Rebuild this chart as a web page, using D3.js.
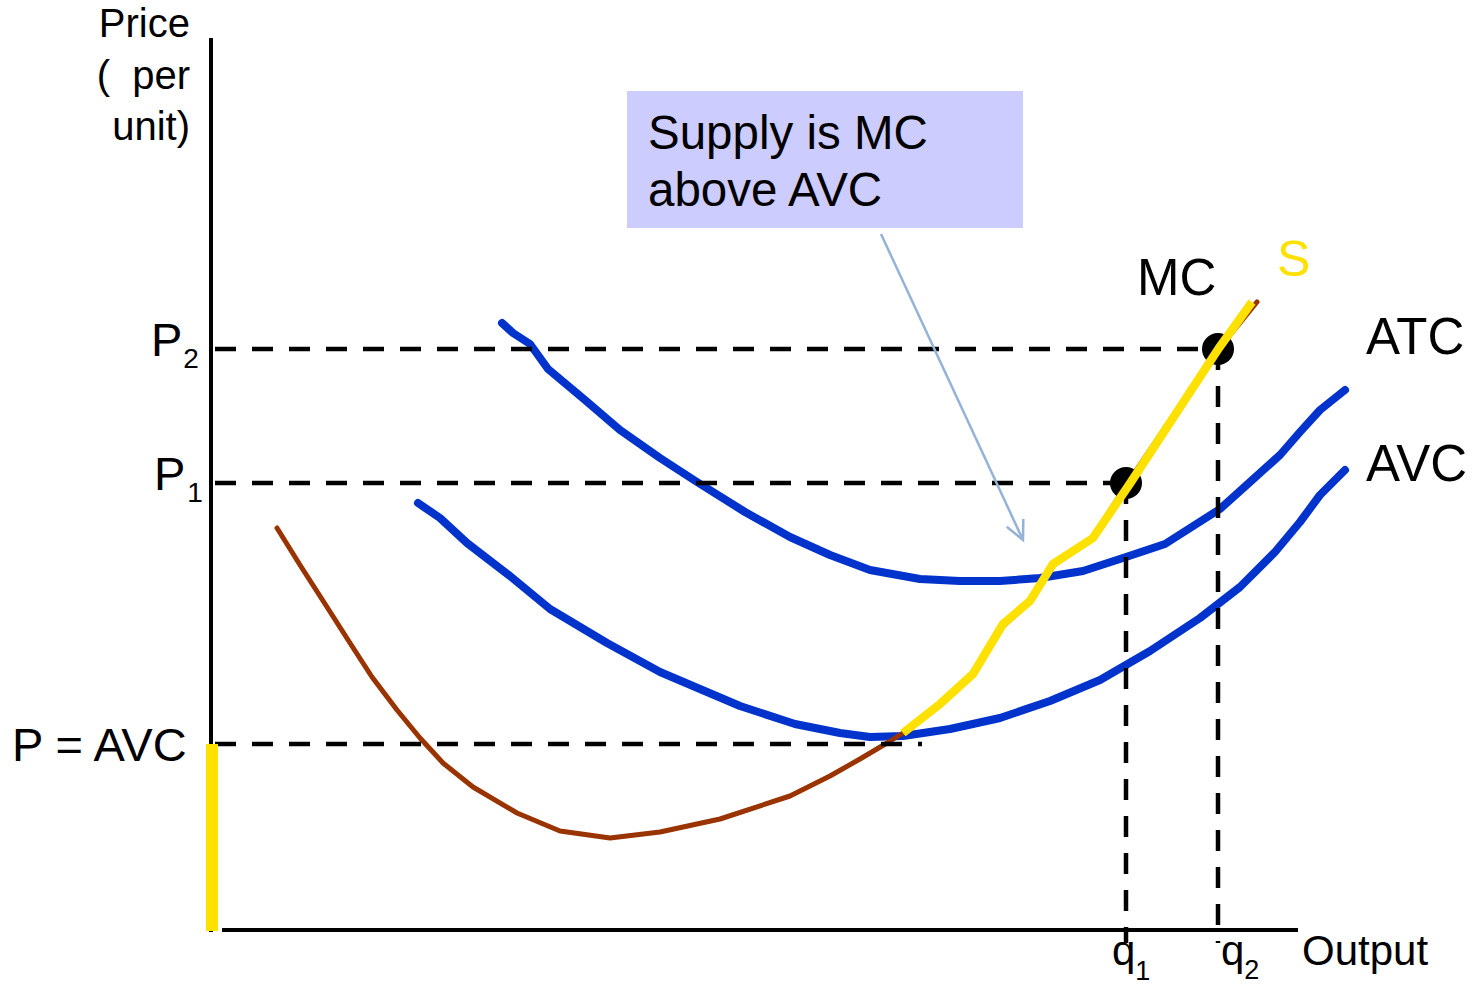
<!DOCTYPE html>
<html>
<head>
<meta charset="utf-8">
<script src="https://cdn.jsdelivr.net/npm/d3@7"></script>
<style>
  html, body { margin: 0; padding: 0; background: #fff; }
  svg { display: block; }
  text { font-family: "Liberation Sans", Arial, sans-serif; fill: #000; }
</style>
</head>
<body>
<svg id="chart" width="1481" height="987"></svg>
<script>
// Short-run cost curves of a competitive firm (quantity, price per unit)
const atcCurve = [
  [29.1, 60.7], [30.2, 59.7], [31.9, 58.6], [33.7, 56.1], [37.4, 53.0], [40.9, 50.0],
  [44.9, 47.2], [48.6, 44.8], [53.4, 41.8], [57.9, 39.3], [61.9, 37.5], [65.9, 36.0],
  [70.9, 35.1], [74.9, 34.9], [78.9, 34.9], [82.9, 35.2], [87.2, 35.9], [91.2, 37.2],
  [95.4, 38.6], [100.9, 42.1], [103.9, 44.8], [106.9, 47.5], [108.9, 49.8], [110.9, 52.0],
  [113.4, 54.0]
];
const avcCurve = [
  [20.7, 42.7], [22.9, 41.2], [25.6, 38.7], [29.9, 35.4], [33.9, 32.1], [39.6, 28.7],
  [44.9, 25.8], [52.9, 22.4], [58.4, 20.6], [62.9, 19.7], [65.9, 19.3], [69.2, 19.4],
  [73.9, 20.1], [78.9, 21.2], [83.9, 22.9], [88.9, 25.0], [93.9, 27.9], [98.9, 31.2],
  [102.9, 34.3], [106.4, 37.8], [108.9, 40.8], [110.9, 43.5], [113.4, 46.0]
];
const mcCurve = [
  [6.6, 40.2], [8.9, 36.5], [11.6, 32.3], [13.9, 28.7], [16.1, 25.3], [18.6, 22.0],
  [20.9, 19.2], [23.2, 16.7], [26.2, 14.3], [30.6, 11.7], [34.9, 9.9], [39.9, 9.2],
  [44.9, 9.8], [50.9, 11.1], [57.9, 13.4], [61.9, 15.4], [64.9, 17.1], [67.6, 18.7],
  [69.2, 19.7], [72.9, 22.5], [76.0, 25.3], [79.0, 30.2], [81.7, 32.6], [84.0, 36.3],
  [88.0, 39.0], [91.6, 44.6], [100.6, 57.9], [104.6, 62.8]
];
// Supply: the MC branch above minimum AVC
const supplyCurve = [
  [69.2, 19.7], [72.9, 22.6], [76.2, 25.6], [79.2, 30.6], [81.9, 32.9], [84.2, 36.6],
  [88.2, 39.2], [92.0, 44.8], [100.8, 58.2], [104.1, 62.8]
];
// Price levels and chosen outputs
const priceLevels = [
  { name: "P2", p: 58.1, q: 100.7 },
  { name: "P1", p: 44.7, q: 91.5 },
  { name: "P = AVC", p: 18.6, q: 71.1 }
];
const outputs = [
  { name: "q1", q: 91.5, p: 44.7, sub: "1" },
  { name: "q2", q: 100.7, p: 58.1, sub: "2" }
];
const shutdownPrice = 18.6;
const arrowFrom = [67.0, 69.6];
const arrowTo = [81.2, 39.0];
const noteBox = { q0: 41.6, q1: 81.2, p0: 70.2, p1: 83.9 };

const BLUE = "#0033CC", BROWN = "#993300", YELLOW = "#FFE100", NOTE = "#CCCCFF", ARROW = "#95B3D7";

const svg = d3.select("#chart");
const x = d3.scaleLinear().domain([0, 108.7]).range([211, 1298]);
const y = d3.scaleLinear().domain([0, 89.2]).range([930, 38]);

const line = d3.line().x(d => x(d[0])).y(d => y(d[1])).curve(d3.curveLinear);

// Axes
svg.append("line").attr("x1", x(0)).attr("x2", x(0)).attr("y1", y(89.2)).attr("y2", y(-0.2))
  .attr("stroke", "#000").attr("stroke-width", 4);
svg.append("line").attr("x1", x(1.1)).attr("x2", x(108.7)).attr("y1", y(0)).attr("y2", y(0))
  .attr("stroke", "#000").attr("stroke-width", 4);

// ATC and AVC
[atcCurve, avcCurve].forEach(c => {
  svg.append("path").attr("d", line(c)).attr("fill", "none").attr("stroke", BLUE)
    .attr("stroke-width", 8).attr("stroke-linecap", "round").attr("stroke-linejoin", "round");
});

// MC
svg.append("path").attr("d", line(mcCurve)).attr("fill", "none").attr("stroke", BROWN)
  .attr("stroke-width", 5).attr("stroke-linecap", "round").attr("stroke-linejoin", "round");

// Dashed guides
const dash = "21 16";
priceLevels.forEach(d => {
  svg.append("line").attr("x1", x(0.4)).attr("x2", x(d.q)).attr("y1", y(d.p)).attr("y2", y(d.p))
    .attr("stroke", "#000").attr("stroke-width", 4.5).attr("stroke-dasharray", dash);
});
outputs.forEach(d => {
  svg.append("line").attr("x1", x(d.q)).attr("x2", x(d.q)).attr("y1", y(d.p)).attr("y2", y(-1.3))
    .attr("stroke", "#000").attr("stroke-width", 4.5).attr("stroke-dasharray", dash);
});

// Equilibrium points
outputs.forEach(d => {
  svg.append("circle").attr("cx", x(d.q)).attr("cy", y(d.p)).attr("r", 16).attr("fill", "#000");
});

// Supply curve
svg.append("path").attr("d", line(supplyCurve)).attr("fill", "none").attr("stroke", YELLOW)
  .attr("stroke-width", 8.5).attr("stroke-linejoin", "miter");
svg.append("line").attr("x1", x(0) + 1).attr("x2", x(0) + 1).attr("y1", y(shutdownPrice)).attr("y2", y(-0.1))
  .attr("stroke", YELLOW).attr("stroke-width", 12);

// Note box
svg.append("rect").attr("x", x(noteBox.q0)).attr("y", y(noteBox.p1))
  .attr("width", x(noteBox.q1) - x(noteBox.q0)).attr("height", y(noteBox.p0) - y(noteBox.p1))
  .attr("fill", NOTE);
const note = svg.append("text").attr("font-size", 47.5);
note.append("tspan").attr("x", 648).attr("y", 149).text("Supply is MC");
note.append("tspan").attr("x", 648).attr("y", 206).text("above AVC");

// Arrow from note to the supply curve
const ax0 = x(arrowFrom[0]), ay0 = y(arrowFrom[1]), ax1 = x(arrowTo[0]), ay1 = y(arrowTo[1]);
svg.append("line").attr("x1", ax0).attr("y1", ay0).attr("x2", ax1).attr("y2", ay1)
  .attr("stroke", ARROW).attr("stroke-width", 2.5);
const ang = Math.atan2(ay1 - ay0, ax1 - ax0);
const head = [ang + Math.PI - 0.45, ang + Math.PI + 0.45].map(a => [ax1 + 21 * Math.cos(a), ay1 + 21 * Math.sin(a)]);
svg.append("path").attr("d", `M${head[0][0]},${head[0][1]}L${ax1},${ay1}L${head[1][0]},${head[1][1]}`)
  .attr("fill", "none").attr("stroke", ARROW).attr("stroke-width", 2.5);

// Axis titles
const yTitle = svg.append("text").attr("font-size", 40).attr("text-anchor", "end");
yTitle.append("tspan").attr("x", 190).attr("y", 37).text("Price");
yTitle.append("tspan").attr("x", 190).attr("y", 89).attr("xml:space", "preserve").text("(  per");
yTitle.append("tspan").attr("x", 190).attr("y", 140).text("unit)");
svg.append("text").attr("x", 1302).attr("y", 965).attr("font-size", 42).text("Output");

// Price labels
function subLabel(px, py, main, sub, size, subSize, subDx, subDy) {
  const t = svg.append("text").attr("x", px).attr("y", py).attr("font-size", size);
  t.append("tspan").text(main);
  t.append("tspan").attr("font-size", subSize).attr("dx", subDx).attr("dy", subDy).text(sub);
}
subLabel(151, 356, "P", "2", 47, 28, 1, 12);
subLabel(154, 490, "P", "1", 47, 28, 2, 12);
svg.append("text").attr("x", 12).attr("y", 761).attr("font-size", 47).text("P = AVC");
subLabel(1112, 965, "q", "1", 42, 27, 0, 15);
subLabel(1221, 965, "q", "2", 42, 27, 0, 14);

// Curve labels
svg.append("text").attr("x", 1137).attr("y", 295).attr("font-size", 51).text("MC");
svg.append("text").attr("x", 1277).attr("y", 276).attr("font-size", 50).style("fill", YELLOW).text("S");
svg.append("text").attr("x", 1366).attr("y", 354).attr("font-size", 51).text("ATC");
svg.append("text").attr("x", 1366).attr("y", 481).attr("font-size", 51).text("AVC");
</script>
</body>
</html>
